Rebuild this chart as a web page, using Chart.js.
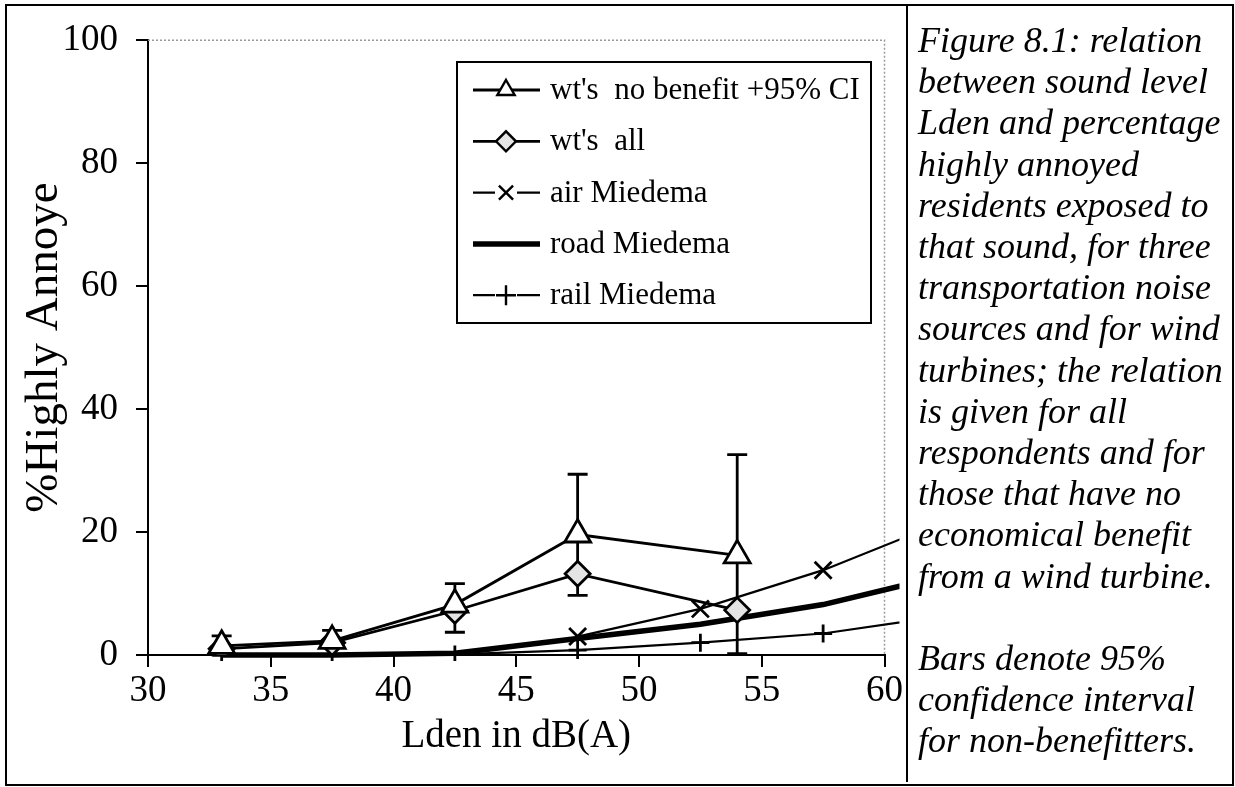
<!DOCTYPE html>
<html>
<head>
<meta charset="utf-8">
<script src="https://cdn.jsdelivr.net/npm/chart.js@4.4.1/dist/chart.umd.min.js"></script>
<style>
  body { margin: 0; background: #fff; }
  #wrap { position: relative; width: 1235px; height: 787px; }
  #frame { position: absolute; left: 5px; top: 4px; width: 1225px; height: 778px; border: 2px solid #000; }
  #chart { position: absolute; left: 0; top: 0; }
  #caption {
    position: absolute; left: 906px; top: 4px; width: 314px; height: 762px;
    border-left: 2px solid #000; padding: 16px 0 0 10px;
    font-family: "Liberation Serif", serif; font-style: italic; font-size: 36px;
    line-height: 41.2px; white-space: nowrap; color: #000;
  }
</style>
</head>
<body>
<div id="wrap">
  <canvas id="chart" width="905" height="787"></canvas>
  <div id="frame"></div>
  <div id="caption">Figure 8.1: relation<br>between sound level<br>Lden and percentage<br>highly annoyed<br>residents exposed to<br>that sound, for three<br>transportation noise<br>sources and for wind<br>turbines; the relation<br>is given for all<br>respondents and for<br>those that have no<br>economical benefit<br>from a wind turbine.<br>&nbsp;<br>Bars denote 95%<br>confidence interval<br>for non-benefitters.</div>
</div>
<script>
// valeurs
const wtLden = [33, 37.5, 42.5, 47.5, 54];
const wtNoBenefit = [1.5, 2.3, 8.2, 19.6, 16.2];
const ciLow = [0, 0, 3.7, 9.7, 0.2];
const ciHigh = [3.1, 4.0, 11.6, 29.4, 32.6];
const wtAll = [1.0, 2.0, 7.2, 13.2, 7.3];

const airLden = [47.5, 52.5, 57.5, 62.5];
const airMiedema = [3.0, 7.5, 13.8, 21.8];
const miedemaLden = [33, 37.5, 42.5, 47.5, 52.5, 57.5, 62.5];
const roadMiedema = [0, 0, 0.3, 2.7, 5.0, 8.2, 13.0];
const railMiedema = [0, 0, 0.1, 0.8, 2.0, 3.5, 6.4];

const xTicks = [30, 35, 40, 45, 50, 55, 60];
const yTicks = [0, 20, 40, 60, 80, 100];

const toPoints = (xs, ys) => xs.map((x, i) => ({ x: x, y: ys[i] }));

Chart.defaults.font.family = '"Liberation Serif", "Times New Roman", serif';
Chart.defaults.color = '#000';

// marqueurs pour la légende
function drawMarker(ctx, style, x, y, r, fill) {
    ctx.beginPath();
    if (style === 'triangle') {
        for (let k = 0; k < 3; k++) {
            let a = k * 2 * Math.PI / 3;
            let px = x + Math.sin(a) * r, py = y - Math.cos(a) * r;
            if (k === 0) ctx.moveTo(px, py); else ctx.lineTo(px, py);
        }
        ctx.closePath();
        ctx.fillStyle = fill; ctx.fill(); ctx.stroke();
    } else if (style === 'rectRot') {
        ctx.moveTo(x - r, y); ctx.lineTo(x, y - r); ctx.lineTo(x + r, y); ctx.lineTo(x, y + r);
        ctx.closePath();
        ctx.fillStyle = fill; ctx.fill(); ctx.stroke();
    } else if (style === 'crossRot') {
        let d = r * Math.SQRT1_2;
        ctx.moveTo(x - d, y - d); ctx.lineTo(x + d, y + d);
        ctx.moveTo(x - d, y + d); ctx.lineTo(x + d, y - d);
        ctx.stroke();
    } else if (style === 'cross') {
        ctx.moveTo(x - r, y); ctx.lineTo(x + r, y);
        ctx.moveTo(x, y - r); ctx.lineTo(x, y + r);
        ctx.stroke();
    }
}

const errorBars = {
    id: 'errorBars',
    beforeDatasetsDraw(chart) {
        const ctx = chart.ctx;
        const xs = chart.scales.x, ys = chart.scales.y;
        ctx.save();
        ctx.strokeStyle = '#000';
        ctx.lineWidth = 2.8;
        wtLden.forEach((lx, i) => {
            let px = xs.getPixelForValue(lx);
            let top = ys.getPixelForValue(ciHigh[i]);
            let bot = ys.getPixelForValue(ciLow[i]);
            ctx.beginPath();
            ctx.moveTo(px, top); ctx.lineTo(px, bot);
            ctx.moveTo(px - 10, top); ctx.lineTo(px + 10, top);
            ctx.moveTo(px - 10, bot); ctx.lineTo(px + 10, bot);
            ctx.stroke();
        });
        ctx.restore();
    }
};

const plotFrame = {
    id: 'plotFrame',
    beforeDatasetsDraw(chart) {
        const { ctx, chartArea: a } = chart;
        ctx.save();
        ctx.strokeStyle = '#9a9a9a';
        ctx.lineWidth = 1.5;
        ctx.setLineDash([2, 2]);
        ctx.beginPath();
        ctx.moveTo(a.left, a.top); ctx.lineTo(a.right, a.top); ctx.lineTo(a.right, a.bottom);
        ctx.stroke();
        ctx.restore();
    }
};

const boxLegend = {
    id: 'boxLegend',
    afterDraw(chart) {
        const ctx = chart.ctx;
        ctx.save();
        ctx.fillStyle = '#fff';
        ctx.fillRect(457, 62, 414, 261);
        ctx.strokeStyle = '#000';
        ctx.lineWidth = 2;
        ctx.strokeRect(457, 62, 414, 261);
        ctx.font = '31px "Liberation Serif", serif';
        ctx.textBaseline = 'middle';
        chart.data.datasets.forEach((ds, i) => {
            let y = 90 + i * 51.3;
            let cx = 506;
            ctx.strokeStyle = '#000';
            ctx.lineWidth = ds.borderWidth;
            ctx.beginPath();
            if (ds.pointStyle === 'cross' || ds.pointStyle === 'crossRot') {
                ctx.moveTo(473, y); ctx.lineTo(cx - 11, y);
                ctx.moveTo(cx + 11, y); ctx.lineTo(540, y);
            } else {
                ctx.moveTo(473, y); ctx.lineTo(540, y);
            }
            ctx.stroke();
            if (ds.pointRadius > 0) {
                ctx.lineWidth = 2.4;
                drawMarker(ctx, ds.pointStyle, cx, y, ds.pointStyle === 'rectRot' ? 10 : 10, ds.pointBackgroundColor || '#fff');
            }
            ctx.fillStyle = '#000';
            ctx.fillText(ds.label, 550, y + 1);
        });
        ctx.restore();
    }
};

const miedemaClip = { left: 2, top: 2, right: 15, bottom: 6 };

new Chart(document.getElementById('chart'), {
    type: 'line',
    data: {
        datasets: [
            {
                label: "wt's  no benefit +95% CI",
                data: toPoints(wtLden, wtNoBenefit),
                borderColor: '#000', borderWidth: 2.8,
                pointStyle: 'triangle', pointRadius: 15,
                pointBackgroundColor: '#fff', pointBorderColor: '#000', pointBorderWidth: 2.8
            },
            {
                label: "wt's  all",
                data: toPoints(wtLden, wtAll),
                borderColor: '#000', borderWidth: 2.8,
                pointStyle: 'rectRot', pointRadius: 12.5,
                pointBackgroundColor: '#e4e4e4', pointBorderColor: '#000', pointBorderWidth: 2.8
            },
            {
                label: 'air Miedema',
                data: toPoints(airLden, airMiedema),
                borderColor: '#000', borderWidth: 2.2,
                pointStyle: 'crossRot', pointRadius: 12,
                pointBorderColor: '#000', pointBorderWidth: 2.8,
                clip: miedemaClip
            },
            {
                label: 'road Miedema',
                data: toPoints(miedemaLden, roadMiedema),
                borderColor: '#000', borderWidth: 5.5,
                pointRadius: 0,
                clip: miedemaClip
            },
            {
                label: 'rail Miedema',
                data: toPoints(miedemaLden, railMiedema),
                borderColor: '#000', borderWidth: 2.2,
                pointStyle: 'cross', pointRadius: 9,
                pointBorderColor: '#000', pointBorderWidth: 2.8,
                clip: miedemaClip
            }
        ]
    },
    options: {
        responsive: false,
        animation: false,
        devicePixelRatio: 1,
        layout: { padding: { top: 40, right: 17, bottom: 2, left: 0 } },
        plugins: { legend: { display: false }, tooltip: { enabled: false } },
        scales: {
            x: {
                type: 'linear', min: 30, max: 60,
                afterBuildTicks: s => { s.ticks = xTicks.map(v => ({ value: v })); },
                afterFit: s => { s.height = 130; },
                ticks: { font: { size: 37 }, padding: 2, maxRotation: 0 },
                grid: { drawOnChartArea: false, tickLength: 12, color: '#000', lineWidth: 2 },
                border: { color: '#000', width: 2 },
                title: {
                    display: true, text: 'Lden in dB(A)',
                    font: { size: 39, lineHeight: 1.2 }, padding: { top: 0, bottom: 25 }
                }
            },
            y: {
                type: 'linear', min: 0, max: 100,
                afterBuildTicks: s => { s.ticks = yTicks.map(v => ({ value: v })); },
                afterFit: s => { s.width = 148; },
                ticks: { font: { size: 37 }, padding: 18 },
                grid: { drawOnChartArea: false, tickLength: 12, color: '#000', lineWidth: 2 },
                border: { color: '#000', width: 2 },
                title: {
                    display: true, text: '%Highly Annoye',
                    font: { size: 47, lineHeight: 1.2 }, padding: { top: 16, bottom: 0 }
                }
            }
        }
    },
    plugins: [plotFrame, errorBars, boxLegend]
});
</script>
</body>
</html>
